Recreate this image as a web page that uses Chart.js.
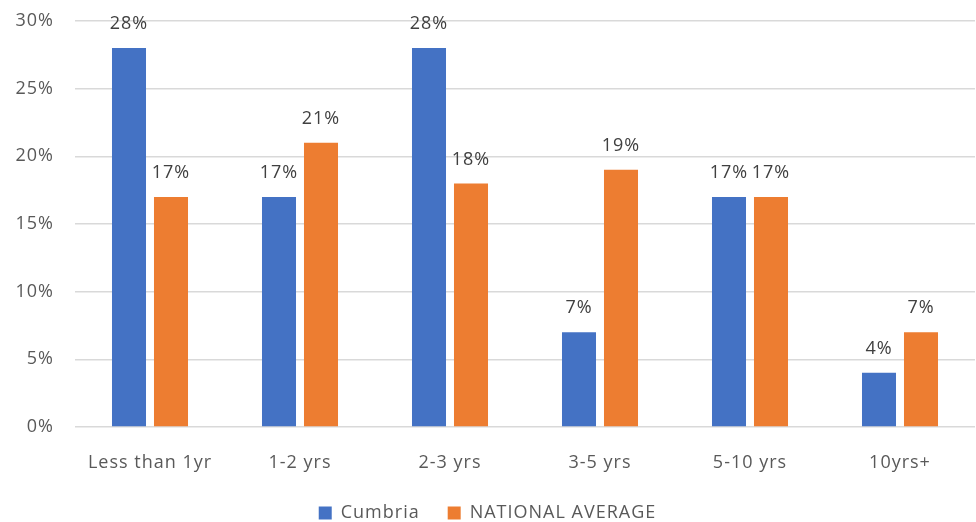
<!DOCTYPE html>
<html>
<head>
<meta charset="utf-8">
<script src="https://cdn.jsdelivr.net/npm/chart.js@4"></script>
<style>
html,body{margin:0;padding:0;background:#fff;}
#wrap{width:976px;height:522px;position:relative;}
</style>
</head>
<body>
<div id="wrap"><canvas id="c"></canvas></div>
<script>
const categories = ["Less than 1yr", "1-2 yrs", "2-3 yrs", "3-5 yrs", "5-10 yrs", "10yrs+"];
const cumbria = [28, 17, 28, 7, 17, 4];
const nationalAverage = [17, 21, 18, 19, 17, 7];
const yTicks = [0, 5, 10, 15, 20, 25, 30];
const seriesNames = ["Cumbria", "NATIONAL AVERAGE"];

const FONT = "'Open Sans', 'Liberation Sans', sans-serif";
const LS = '1px';

const spacingPlugin = {
  id: 'spacing',
  beforeUpdate(chart) { chart.ctx.letterSpacing = LS; },
  beforeLayout(chart) { chart.ctx.letterSpacing = LS; },
  beforeDraw(chart) { chart.ctx.letterSpacing = LS; }
};

const labelPlugin = {
  id: 'barLabels',
  afterDatasetsDraw(chart) {
    const ctx = chart.ctx;
    ctx.save();
    ctx.letterSpacing = LS;
    ctx.font = "18px " + FONT;
    ctx.fillStyle = '#404040';
    ctx.textAlign = 'center';
    ctx.textBaseline = 'middle';
    chart.data.datasets.forEach((ds, i) => {
      const meta = chart.getDatasetMeta(i);
      meta.data.forEach((bar, j) => {
        ctx.fillText(ds.data[j] + '%', bar.x, bar.y - 24);
      });
    });
    ctx.restore();
  }
};

new Chart(document.getElementById('c'), {
  type: 'bar',
  data: {
    labels: categories,
    datasets: [
      { label: seriesNames[0], data: cumbria, backgroundColor: '#4472C4', categoryPercentage: 0.56, barPercentage: 0.81 },
      { label: seriesNames[1], data: nationalAverage, backgroundColor: '#ED7D31', categoryPercentage: 0.56, barPercentage: 0.81 }
    ]
  },
  options: {
    responsive: true,
    maintainAspectRatio: false,
    animation: false,
    layout: { padding: { top: 21, right: 1, left: 0, bottom: -10 } },
    plugins: {
      tooltip: { enabled: false },
      legend: {
        position: 'bottom',
        labels: {
          boxWidth: 13, boxHeight: 13, padding: 28,
          color: '#595959',
          font: { family: FONT, size: 18 }
        }
      }
    },
    scales: {
      x: {
        grid: { display: false, drawTicks: false },
        border: { display: false },
        ticks: { color: '#595959', font: { family: FONT, size: 18 }, padding: 25 },
        afterFit(s) { s.height = 49; }
      },
      y: {
        min: 0, max: 30,
        afterBuildTicks(s) { s.ticks = yTicks.map(v => ({ value: v })); },
        grid: { color: '#d9d9d9', lineWidth: 1.5, drawTicks: false },
        border: { display: false },
        ticks: { color: '#595959', font: { family: FONT, size: 18 }, padding: 21, callback: v => v + '%' },
        afterFit(s) { s.width = 75; s.paddingTop = 0; s.paddingBottom = 0; }
      }
    }
  },
  plugins: [spacingPlugin, labelPlugin]
});
</script>
</body>
</html>
